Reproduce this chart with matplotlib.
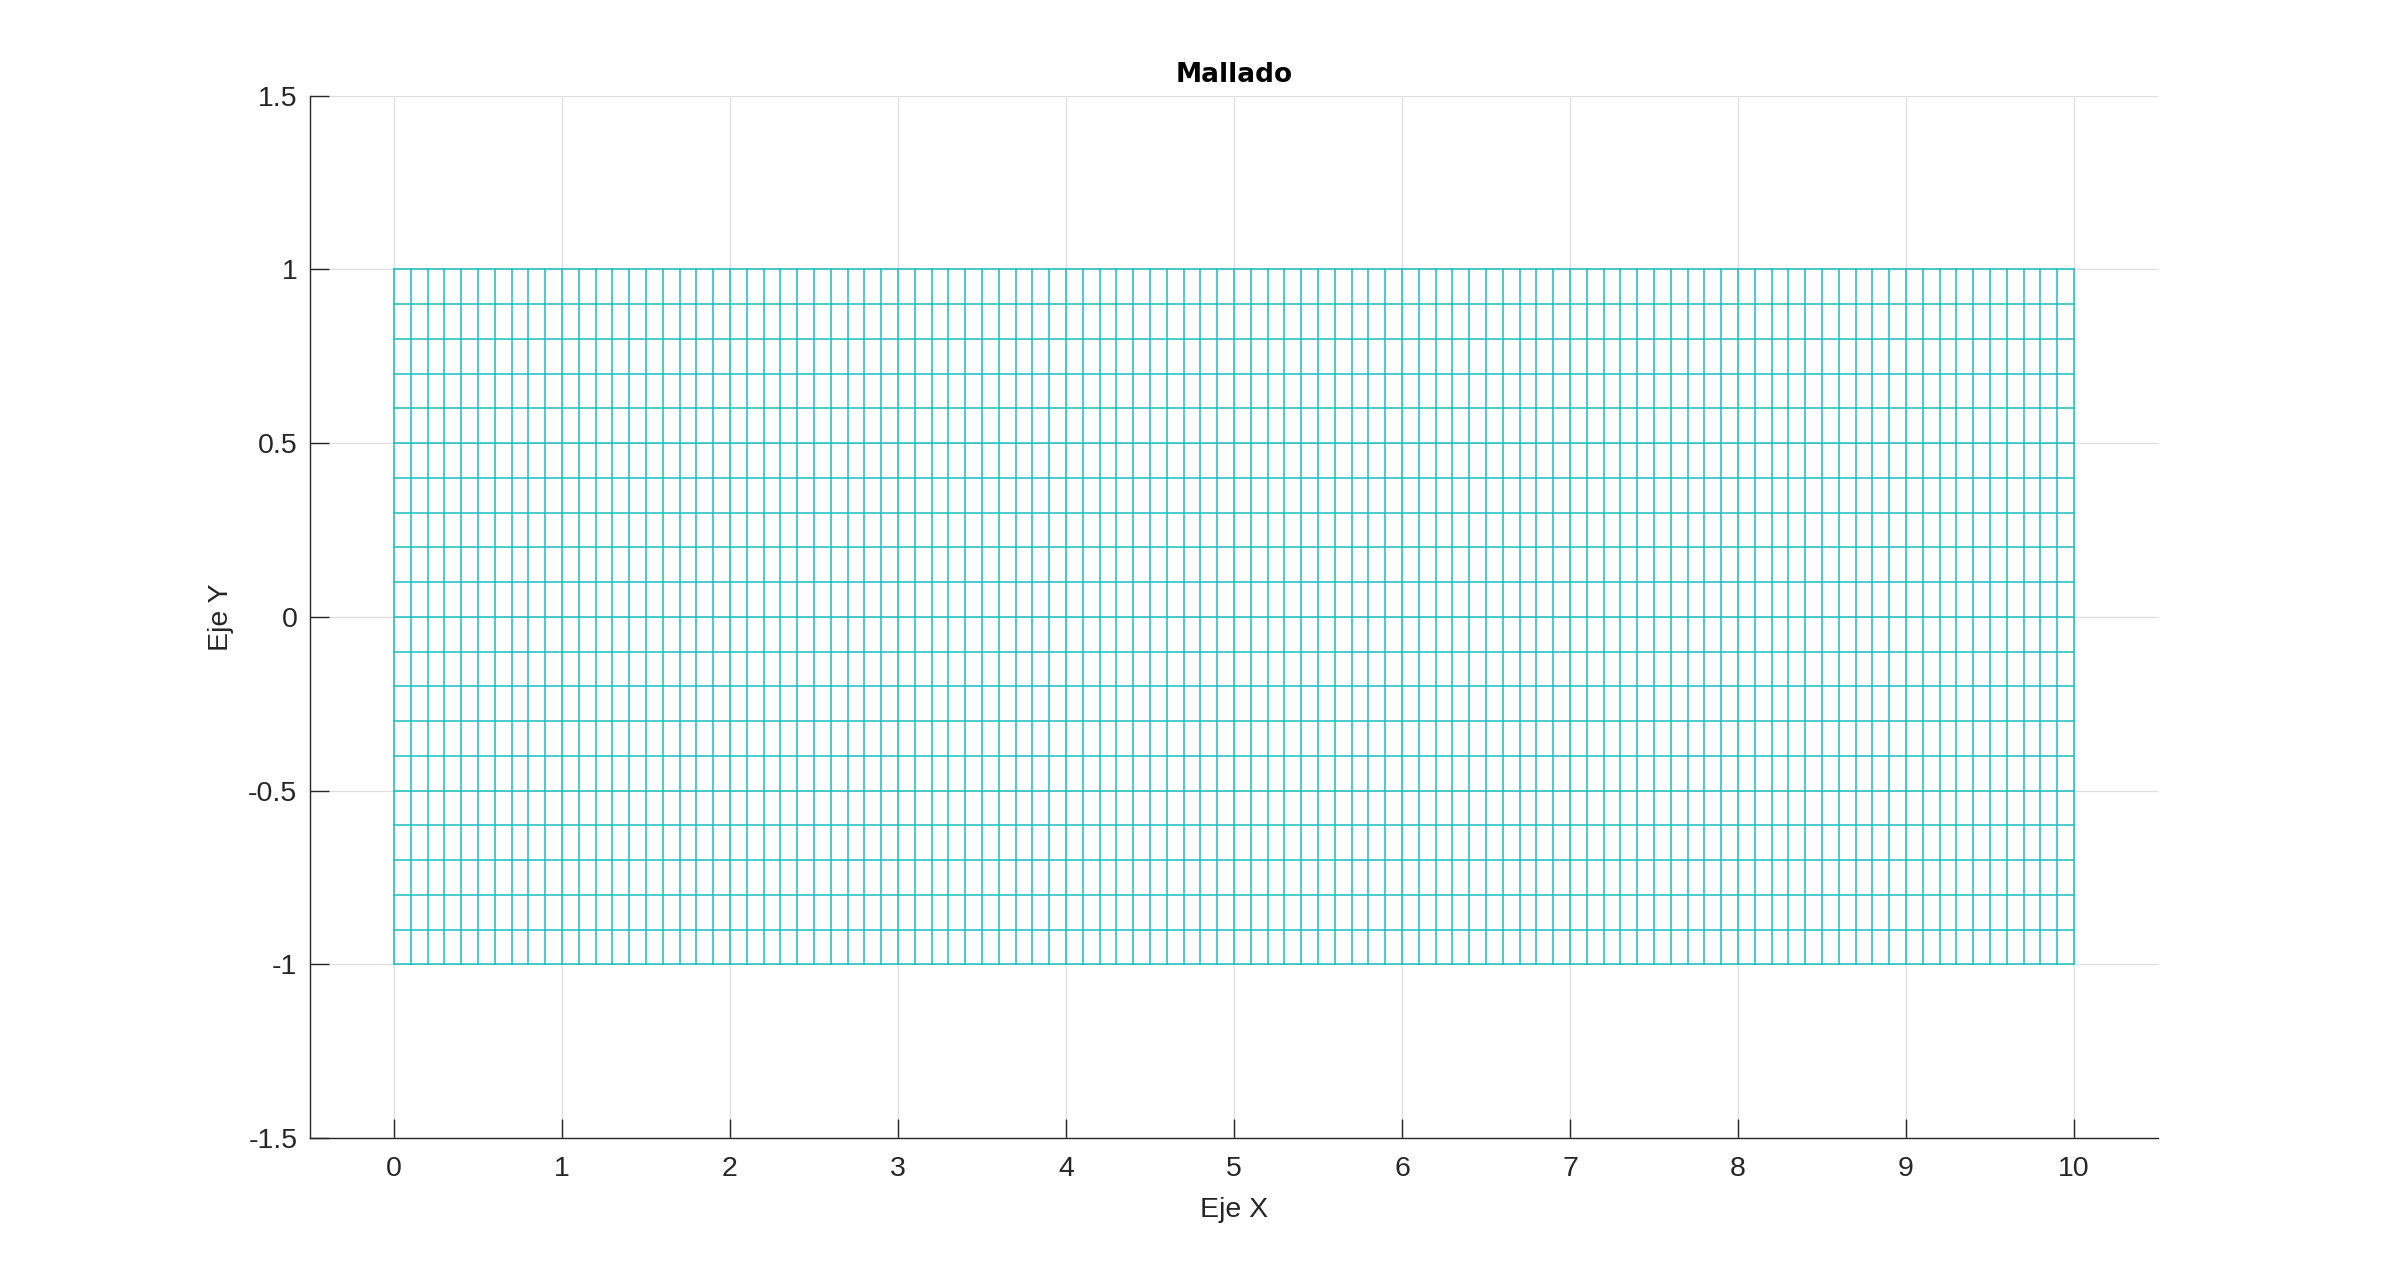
import matplotlib as mpl
import matplotlib.pyplot as plt
import numpy as np

mpl.rcParams.update({'font.size': 20,
                     'font.family': ['Liberation Sans', 'DejaVu Sans'],
                     'axes.unicode_minus': False,
                    })

# mesh nodes (step 0.1 in both directions)
x_nodes = [0.0, 0.1, 0.2, 0.3, 0.4, 0.5, 0.6, 0.7, 0.8, 0.9,
           1.0, 1.1, 1.2, 1.3, 1.4, 1.5, 1.6, 1.7, 1.8, 1.9,
           2.0, 2.1, 2.2, 2.3, 2.4, 2.5, 2.6, 2.7, 2.8, 2.9,
           3.0, 3.1, 3.2, 3.3, 3.4, 3.5, 3.6, 3.7, 3.8, 3.9,
           4.0, 4.1, 4.2, 4.3, 4.4, 4.5, 4.6, 4.7, 4.8, 4.9,
           5.0, 5.1, 5.2, 5.3, 5.4, 5.5, 5.6, 5.7, 5.8, 5.9,
           6.0, 6.1, 6.2, 6.3, 6.4, 6.5, 6.6, 6.7, 6.8, 6.9,
           7.0, 7.1, 7.2, 7.3, 7.4, 7.5, 7.6, 7.7, 7.8, 7.9,
           8.0, 8.1, 8.2, 8.3, 8.4, 8.5, 8.6, 8.7, 8.8, 8.9,
           9.0, 9.1, 9.2, 9.3, 9.4, 9.5, 9.6, 9.7, 9.8, 9.9,
           10.0]
y_nodes = [-1.0, -0.9, -0.8, -0.7, -0.6, -0.5, -0.4, -0.3, -0.2, -0.1,
           0.0, 0.1, 0.2, 0.3, 0.4, 0.5, 0.6, 0.7, 0.8, 0.9, 1.0]

x_ticks = [0, 1, 2, 3, 4, 5, 6, 7, 8, 9, 10]
y_ticks = [-1.5, -1, -0.5, 0, 0.5, 1, 1.5]
y_ticklabels = ['-1.5', '-1', '-0.5', '0', '0.5', '1', '1.5']

X, Y = np.meshgrid(x_nodes, y_nodes)

fig = plt.figure(figsize=(23.88, 12.8), dpi=100)
ax = fig.add_axes([0.1298, 0.1109, 0.7739, 0.8144])

mesh_col = '#17bfbf'
ax.plot(X, Y, color=mesh_col, lw=1.1, zorder=3)
ax.plot(X.T, Y.T, color=mesh_col, lw=1.1, zorder=3)

ax.set_xlim(-0.5, 10.5)
ax.set_ylim(-1.5, 1.5)
ax.set_xticks(x_ticks)
ax.set_yticks(y_ticks)
ax.set_yticklabels(y_ticklabels)

ax.grid(True, color='#dfdfdf', lw=0.9)
ax.set_axisbelow(True)
for s in ['top', 'right']:
    ax.spines[s].set_visible(False)
for s in ['left', 'bottom']:
    ax.spines[s].set_color('#262626')
    ax.spines[s].set_linewidth(1.0)
ax.tick_params(direction='in', length=13.5, width=1.0, color='#262626',
               labelcolor='#262626', labelsize=20.5)
ax.tick_params(axis='x', pad=13)
ax.tick_params(axis='y', pad=9)

ax.set_xlabel('Eje X', fontsize=20.5, color='#262626', labelpad=11)
ax.set_ylabel('Eje Y', fontsize=20.5, color='#262626', labelpad=10)
ax.set_title('Mallado', fontsize=19, fontweight='bold', family='DejaVu Sans', pad=10)

fig.savefig('out.png', dpi=100)
